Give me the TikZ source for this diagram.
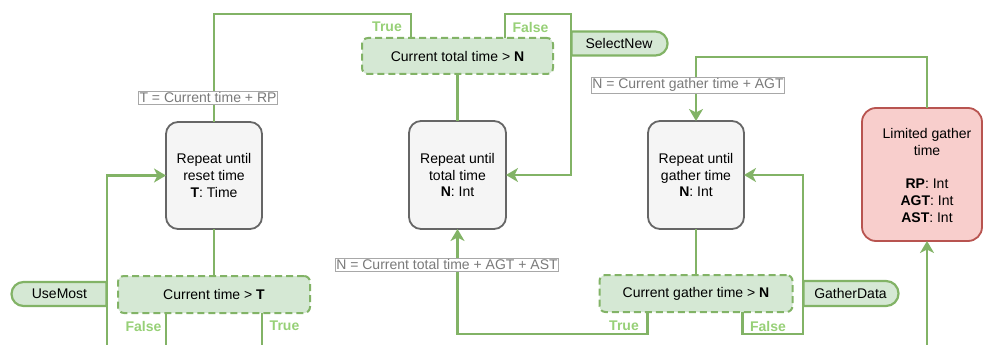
\documentclass[tikz,border=0pt]{standalone}
\usepackage{fontspec}
\setmainfont{Liberation Sans}
\usetikzlibrary{shapes.misc,arrows.meta,calc}
\definecolor{gline}{HTML}{82B366}
\definecolor{gfill}{HTML}{D5E8D4}
\definecolor{glabel}{HTML}{97D077}
\definecolor{boxfill}{HTML}{F5F5F5}
\definecolor{boxline}{HTML}{666666}
\definecolor{redfill}{HTML}{F8CECC}
\definecolor{redline}{HTML}{B85450}
\definecolor{tagtext}{HTML}{7A7A7A}
\definecolor{tagline}{HTML}{A8A8A8}
\begin{document}
\begin{tikzpicture}[x=1pt,y=-1pt,
  every node/.style={font=\fontsize{14}{16.7}\selectfont, inner sep=0pt, outer sep=0pt},
  loopbox/.style={draw=boxline, fill=boxfill, line width=1.8pt, rounded corners=12pt,
    align=center, minimum width=96pt, minimum height=107pt},
  limitbox/.style={draw=redline, fill=redfill, line width=1.8pt, rounded corners=14pt,
    minimum width=120pt, minimum height=133pt},
  check/.style={draw=gline, fill=gfill, line width=2pt, dash pattern=on 7pt off 4pt,
    rounded corners=6pt, minimum height=37pt},
  tagR/.style={rounded rectangle, rounded rectangle left arc=none, draw=gline, fill=gfill,
    line width=2.2pt, minimum width=96pt, minimum height=24pt},
  tagL/.style={rounded rectangle, rounded rectangle right arc=none, draw=gline, fill=gfill,
    line width=2.2pt, minimum width=95pt, minimum height=24pt},
  flow/.style={draw=gline, line width=2.3pt},
  arr/.style={-{Stealth[length=12pt,width=14pt,inset=3.5pt]}},
  note/.style={draw=tagline, fill=white, text=tagtext, line width=0.6pt,
    inner xsep=1pt, inner ysep=1.5pt},
  tf/.style={text=glabel, font=\bfseries\fontsize{14}{16}\selectfont}
]
\useasboundingbox (0,0) rectangle (983,345);

% loop boxes
\node[loopbox] (b1) at (214,175.5) {Repeat until\\reset time\\\textbf{T}: Time};
\node[loopbox, minimum width=97pt, minimum height=108pt] (b2) at (457.5,175) {Repeat until\\total time\\\textbf{N}: Int};
\node[loopbox, minimum height=108pt] (b3) at (696,175) {Repeat until\\gather time\\\textbf{N}: Int};

% parameter box
\node[limitbox] (red) at (922,174.5) {};
\node[align=center] (redtxt) at (927,175.5) {Limited gather\\time\\[16.7pt]\textbf{RP}: Int\\\textbf{AGT}: Int\\\textbf{AST}: Int};

% checks
\node[check, minimum width=192pt] (D1) at (214,294.5) {Current time > \textbf{T}};
\node[check, minimum width=191pt, minimum height=36pt] (D2) at (457.5,56) {Current total time > \textbf{N}};
\node[check, minimum width=193pt] (D3) at (696,293.5) {Current gather time > \textbf{N}};

% helper rows and columns
\coordinate (ytop) at (0,14);
\coordinate (ymid) at (0,57);
\coordinate (ybot) at (0,334);
\coordinate (yend) at (0,345);
\coordinate (xsel) at (571,0);
\coordinate (xgat) at (803,0);
\coordinate (xuse) at (107,0);
\coordinate (d2t) at ($(D2.north west)+(49,0)$);
\coordinate (d2f) at ($(D2.north east)+(-48,0)$);
\coordinate (d3t) at ($(D3.south west)+(48,0)$);
\coordinate (d3f) at ($(D3.south east)+(-50,0)$);
\coordinate (d1f) at ($(D1.south west)+(48,0)$);
\coordinate (d1t) at ($(D1.south east)+(-48,0)$);

% connectors
\draw[flow] (b1.north) -- (b1.north |- ytop) -- (d2t |- ytop) -- (d2t);
\draw[flow,arr] (d2f) -- (d2f |- ytop) -- (xsel |- ytop) -- (xsel |- b2.east) -- (b2.east);
\draw[flow] (D2.south) -- (b2.north);
\draw[flow,arr] (d3t) -- (d3t |- ybot) -- (b2.south |- ybot) -- (b2.south);
\draw[flow,arr] (d3f) -- (d3f |- ybot) -- (xgat |- ybot) -- (xgat |- b3.east) -- (b3.east);
\draw[flow] (b3.south) -- (D3.north);
\draw[flow,arr] (red.north -| redtxt) -- (redtxt |- ymid) -- (b3.north |- ymid) -- (b3.north);
\draw[flow,arr] (redtxt |- yend) -- (red.south -| redtxt);
\draw[flow] (b1.south) -- (D1.north);
\draw[flow] (d1f) -- (d1f |- yend);
\draw[flow] (d1t) -- (d1t |- yend);
\draw[flow,arr] (xuse |- yend) -- (xuse |- b1.west) -- (b1.west);

% entry tags
\node[tagR] (sel) at (619,43.5) {SelectNew};
\node[tagR, minimum width=95pt, minimum height=25pt] (gat) at (850.5,293.5) {GatherData};
\node[tagL] (use) at (59.5,294) {UseMost};

% assignment notes
\node[note] (n1) at (208,97.5) {T = Current time + RP};
\node[note] (n2) at (447,264.5) {N = Current total time + AGT + AST};
\node[note] (n3) at (688,85) {N = Current gather time + AGT};

% branch labels
\node[tf] (l1) at (387,27) {True};
\node[tf] (l2) at (530.5,27) {False};
\node[tf] (l3) at (143.5,326) {False};
\node[tf] (l4) at (284.5,326) {True};
\node[tf] (l5) at (624,326) {True};
\node[tf] (l6) at (768,326) {False};
\end{tikzpicture}
\end{document}
